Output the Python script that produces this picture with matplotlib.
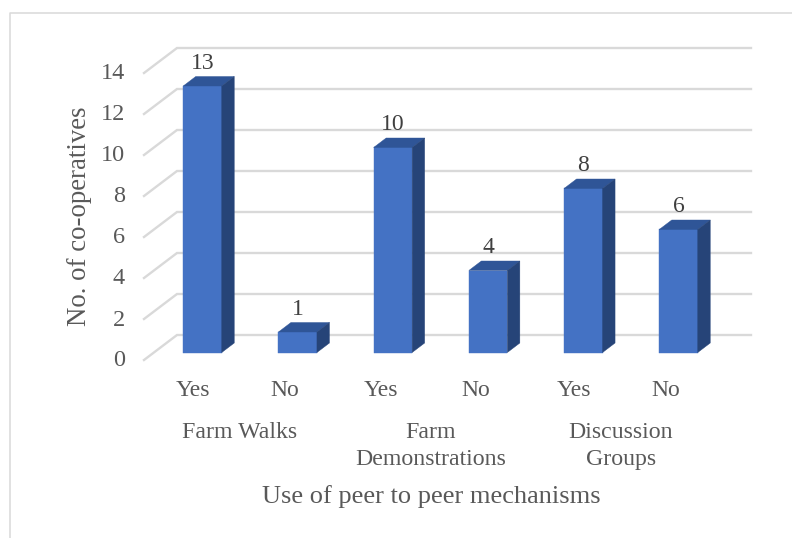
import matplotlib
matplotlib.use("Agg")
from matplotlib import pyplot as plt
from matplotlib.lines import Line2D
from matplotlib.patches import Polygon

# data
bar_labels = ["Yes", "No", "Yes", "No", "Yes", "No"]
values = [13, 1, 10, 4, 8, 6]
group_labels = ["Farm Walks", "Farm\nDemonstrations", "Discussion\nGroups"]
group_pos = [240, 431, 621]
label_pos = [193, 285, 381, 476, 574, 666]
y_ticks = [0, 2, 4, 6, 8, 10, 12, 14]

W, H = 792, 538
UX = 95.2   # px per category
UY = 20.5   # px per value
X0, Y0 = 202.5, 352.5  # px of category 0, value 0

plt.rcParams['font.family'] = ['Liberation Serif', 'DejaVu Serif']

fig = plt.figure(figsize=(W / 100, H / 100), dpi=100)
ax = fig.add_axes([0, 0, 1, 1])
ax.set_xlim(-X0 / UX, (W - X0) / UX)
ax.set_ylim(-(H - Y0) / UY, Y0 / UY)
ax.axis("off")

# outer frame of the chart
fig.add_artist(Line2D([10 / W, 10 / W, 1], [0, 1 - 13 / H, 1 - 13 / H], color="#D9D9D9", lw=1.1))

# sizes in data units
bar_w = 38.5 / UX
dx = 12.5 / UX
dy = 9.5 / UY

# slanted gridlines
grid_left = (144 - X0) / UX
grid_back = (177 - X0) / UX
grid_right = (751 - X0) / UX
for v in range(0, 15, 2):
    ax.plot([grid_left, grid_back, grid_right],
            [v - 7.5 / UY, v + 17.5 / UY, v + 17.5 / UY],
            color="#D9D9D9", lw=1.7, solid_joinstyle="miter", zorder=1)

# 3d bars
for i, v in enumerate(values):
    l = i - bar_w / 2
    r = i + bar_w / 2
    ax.add_patch(Polygon([(l, 0), (r, 0), (r, v), (l, v)], color="#4472C4", lw=0.3, zorder=3))
    ax.add_patch(Polygon([(l, v), (r, v), (r + dx, v + dy), (l + dx, v + dy)], color="#2F5597", lw=0.3, zorder=3))
    ax.add_patch(Polygon([(r, 0), (r + dx, dy), (r + dx, v + dy), (r, v)], color="#264478", lw=0.3, zorder=3))
    ax.text(i, v + dy + 13 / UY, str(v), fontsize=17, color="#404040", ha="center", va="center", zorder=4)

# y axis
for v in y_ticks:
    ax.text((125 - X0) / UX, v - 8.5 / UY, str(v), fontsize=17.5, color="#595959", ha="right", va="center")
ax.text((80 - X0) / UX, (Y0 - 216) / UY, "No. of co-operatives", fontsize=19.3, color="#595959",
        rotation=90, ha="center", va="center")

# x labels
for x, lab in zip(label_pos, bar_labels):
    ax.text((x - X0) / UX, (Y0 - 391) / UY, lab, fontsize=17, color="#595959", ha="center", va="center")
for x, lab in zip(group_pos, group_labels):
    ax.text((x - X0) / UX, (Y0 - 422) / UY, lab, fontsize=17.2, color="#595959",
            ha="center", va="top", linespacing=1.35)
ax.text((431 - X0) / UX, (Y0 - 497) / UY, "Use of peer to peer mechanisms", fontsize=19, color="#595959",
        ha="center", va="center")

fig.savefig("out.png", dpi=100)
